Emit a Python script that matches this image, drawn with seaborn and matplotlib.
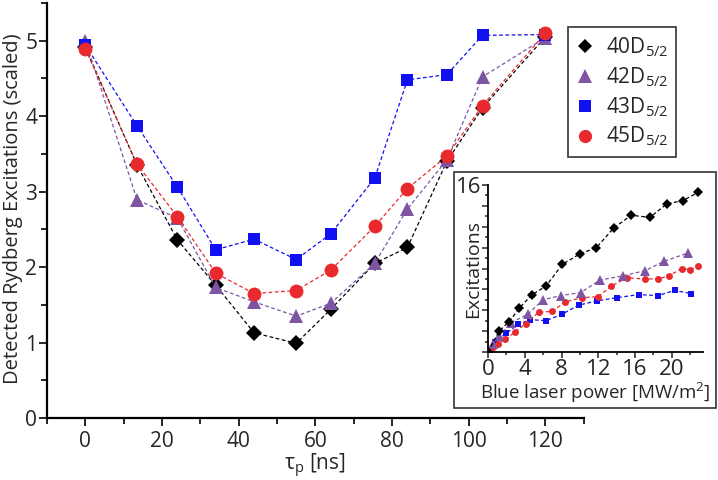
import numpy as np
import pandas as pd
import seaborn as sns
import matplotlib.pyplot as plt
from matplotlib.lines import Line2D
from matplotlib.patches import Rectangle
from matplotlib.ticker import MultipleLocator, FixedLocator

# Main panel: delay scan
tau = [0, 13.5, 24, 34, 44, 55, 64, 75.5, 84, 94.3, 103.6, 120]
exc_40d = [4.91, 3.35, 2.36, 1.76, 1.13, 0.99, 1.44, 2.05, 2.26, 3.40, 4.11, 5.05]
exc_42d = [5.00, 2.89, 2.65, 1.73, 1.54, 1.35, 1.52, 2.05, 2.77, 3.42, 4.52, 5.04]
exc_43d = [4.94, 3.87, 3.06, 2.23, 2.37, 2.10, 2.44, 3.18, 4.48, 4.55, 5.07, 5.08]
exc_45d = [4.89, 3.36, 2.67, 1.92, 1.65, 1.69, 1.96, 2.54, 3.04, 3.47, 4.14, 5.10]

# Inset: power scan
p_40d = [0, 1.2, 2.3, 3.4, 4.8, 6.3, 8.1, 10.0, 11.8, 13.7, 15.6, 17.6, 19.5, 21.2, 22.9]
n_40d = [0, 2.0, 2.9, 4.2, 5.5, 6.3, 8.4, 9.4, 10.0, 11.9, 13.1, 12.9, 14.2, 14.5, 15.3]
p_42d = [0, 0.5, 1.2, 2.5, 4.3, 6.0, 7.9, 10.1, 12.2, 14.7, 17.1, 19.2, 21.8]
n_42d = [0, 0.8, 1.5, 2.8, 3.6, 5.0, 5.4, 5.7, 6.9, 7.3, 7.8, 8.7, 9.5]
p_43d = [0.2, 0.8, 2.0, 3.3, 4.6, 6.3, 8.0, 9.9, 11.9, 14.0, 16.4, 18.5, 20.3, 22.1]
n_43d = [0.2, 1.0, 1.8, 2.65, 3.1, 3.0, 3.6, 4.5, 4.9, 5.2, 5.5, 5.4, 5.9, 5.6]
p_45d = [0.2, 0.5, 1.1, 1.9, 2.9, 4.1, 5.5, 7.0, 8.4, 10.2, 12.0, 13.4, 15.1, 17.1, 18.5, 19.7, 21.1, 22.0, 22.9]
n_45d = [0.25, 0.5, 0.8, 1.2, 1.9, 2.7, 3.8, 3.9, 4.8, 5.2, 5.3, 6.3, 7.1, 7.0, 7.0, 7.3, 8.0, 7.9, 8.2]

labels = [r'40D$_{5/2}$', r'42D$_{5/2}$', r'43D$_{5/2}$', r'45D$_{5/2}$']
colors = ['#000000', '#7d55a3', '#1010f0', '#e82a2f']
markers = ['D', '^', 's', 'o']
msizes = [8, 10, 9, 10]

sns.set_style('ticks')
plt.rcParams['font.family'] = ['Open Sans', 'DejaVu Sans']
plt.rcParams['mathtext.fontset'] = 'custom'
plt.rcParams['mathtext.rm'] = 'Open Sans'
plt.rcParams['mathtext.it'] = 'Open Sans'
plt.rcParams['mathtext.default'] = 'regular'

fig = plt.figure(figsize=(7.18, 4.8), dpi=100)
ax = fig.add_axes([0.0655, 0.129, 0.7475, 0.865])

main_y = [exc_40d, exc_42d, exc_43d, exc_45d]
for i in [0, 1, 3, 2]:
    df = pd.DataFrame({'tau': tau, 'exc': main_y[i]})
    sns.lineplot(data=df, x='tau', y='exc', ax=ax, color=colors[i], marker=markers[i],
                 markersize=msizes[i], markeredgewidth=0, linestyle=(0, (3, 2)), lw=0.9,
                 zorder=3 + i)

ax.set_xlim(-10, 130)
ax.set_ylim(0, 5.5)
ax.xaxis.set_major_locator(MultipleLocator(20))
ax.xaxis.set_minor_locator(MultipleLocator(10))
ax.yaxis.set_major_locator(MultipleLocator(1))
ax.yaxis.set_minor_locator(MultipleLocator(0.5))
ax.tick_params(which='major', length=6, width=1.2, labelsize=15, direction='out', color='black')
ax.tick_params(which='minor', length=4, width=1.2, direction='out', color='black')
ax.tick_params(axis='y', which='major', pad=1)
for s in ['top', 'right']:
    ax.spines[s].set_visible(False)
for s in ['left', 'bottom']:
    ax.spines[s].set_linewidth(1.6)
    ax.spines[s].set_color('black')
ax.set_xlabel(r'$\tau_p$ [ns]', fontsize=15)
ax.xaxis.set_label_coords((315 - 47) / 536.7, -0.082)
ax.set_ylabel('Detected Rydberg Excitations (scaled)', fontsize=14.5)
ax.yaxis.set_label_coords(-0.044, 0.505)

handles = [Line2D([], [], color=colors[i], marker=markers[i], linestyle='none',
                  markersize=msizes[i] * 0.95, markeredgewidth=0) for i in range(4)]
leg = fig.legend(handles, labels, loc='upper left', bbox_to_anchor=(568 / 718, 1 - 27 / 480),
                 fontsize=15, frameon=True, fancybox=False, edgecolor='black',
                 handlelength=0.8, handletextpad=0.6, labelspacing=0.3, borderpad=0.4,
                 borderaxespad=0)
leg.get_frame().set_linewidth(1.2)

# inset frame
fig.patches.append(Rectangle((454 / 718, 1 - 408 / 480), 262 / 718, 236 / 480,
                             transform=fig.transFigure, facecolor='white',
                             edgecolor='#333333', lw=1.2, zorder=10))

ins = fig.add_axes([488 / 718, 1 - 352 / 480, 215 / 718, 167 / 480], zorder=11)
ins.patch.set_alpha(0)
inset_x = [p_40d, p_42d, p_43d, p_45d]
inset_y = [n_40d, n_42d, n_43d, n_45d]
ins_ms = [5, 6.5, 5, 5]
for i in [2, 3, 1, 0]:
    df = pd.DataFrame({'p': inset_x[i], 'n': inset_y[i]})
    sns.lineplot(data=df, x='p', y='n', ax=ins, color=colors[i], marker=markers[i],
                 markersize=ins_ms[i], markeredgewidth=0, linestyle=(0, (3, 2)), lw=0.9,
                 estimator=None, sort=False)
ins.set_xlim(0, 23.4)
ins.set_ylim(0, 16)
ins.xaxis.set_major_locator(MultipleLocator(4))
ins.xaxis.set_minor_locator(MultipleLocator(2))
ins.yaxis.set_major_locator(FixedLocator(np.arange(0, 17, 2)))
ins.yaxis.set_minor_locator(MultipleLocator(1))
ins.set_yticklabels([''] * 8 + ['16'])
ins.tick_params(which='major', length=4, width=1.1, labelsize=16, pad=1, direction='out')
ins.tick_params(which='minor', length=2.5, width=1.1, direction='out')
for s in ['top', 'right']:
    ins.spines[s].set_visible(False)
for s in ['left', 'bottom']:
    ins.spines[s].set_linewidth(1.3)
    ins.spines[s].set_color('black')
ins.set_xlabel('Blue laser power [MW/m$^2$]', fontsize=13.5, labelpad=1)
ins.set_ylabel('Excitations', fontsize=14)
ins.yaxis.set_label_coords(-0.025, 0.5)

fig.savefig('out.png', dpi=100)
